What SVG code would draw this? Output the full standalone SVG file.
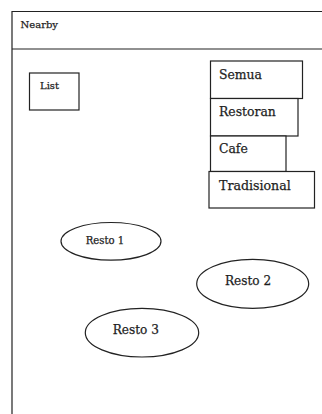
<svg xmlns="http://www.w3.org/2000/svg" width="322" height="414" viewBox="0 0 322 414">
  <style>
    .line { fill: none; stroke: #222; stroke-width: 1.2; }
    .box { fill: #fff; stroke: #222; stroke-width: 1.2; }
    .label { font-family: "DejaVu Serif", "Liberation Serif", serif; fill: #1e1e1e; stroke: #1e1e1e; stroke-width: 0.25; }
  </style>
  <rect width="322" height="414" fill="#fff"/>

  <!-- screen frame and header bar -->
  <g id="frame">
    <path class="line" d="M12,414 V11.5 H322"/>
    <line class="line" x1="12" y1="49" x2="322" y2="49"/>
    <text class="label" x="20.5" y="27.5" font-size="10">Nearby</text>
  </g>

  <g id="list">
    <rect class="box" x="29.5" y="73" width="49.5" height="37"/>
    <text class="label" x="40" y="88.5" font-size="10">List</text>
  </g>

  <!-- category filter stack -->
  <g id="semua">
    <rect class="box" x="210.5" y="61" width="92" height="37.5"/>
    <text class="label" x="219" y="79" font-size="12.4">Semua</text>
  </g>
  <g id="restoran">
    <rect class="box" x="210.5" y="98.5" width="87.5" height="37.5"/>
    <text class="label" x="219" y="116" font-size="12.4">Restoran</text>
  </g>
  <g id="cafe">
    <rect class="box" x="210.5" y="136" width="75.5" height="35.5"/>
    <text class="label" x="219" y="153" font-size="12.4">Cafe</text>
  </g>
  <g id="tradisional">
    <rect class="box" x="209" y="171.5" width="105.5" height="36.5"/>
    <text class="label" x="219" y="190" font-size="12.6">Tradisional</text>
  </g>

  <!-- restaurants -->
  <g id="resto1">
    <ellipse class="box" cx="111" cy="241.3" rx="50" ry="18.8"/>
    <text class="label" x="85.7" y="243.5" font-size="10.1">Resto 1</text>
  </g>
  <g id="resto2">
    <ellipse class="box" cx="252.7" cy="283.8" rx="56" ry="24.5"/>
    <text class="label" x="225" y="285" font-size="12.1">Resto 2</text>
  </g>
  <g id="resto3">
    <ellipse class="box" cx="142" cy="332.7" rx="56.7" ry="24.3"/>
    <text class="label" x="112.7" y="333.5" font-size="12.1">Resto 3</text>
  </g>

  <g id="connectors"></g>
</svg>
